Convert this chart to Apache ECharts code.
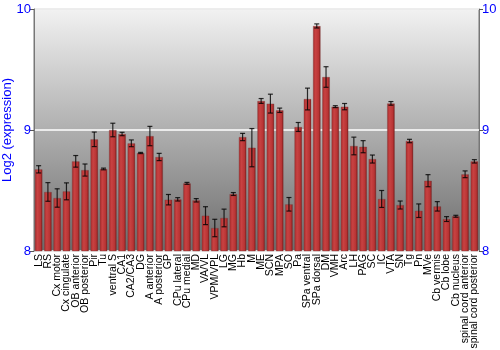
<!DOCTYPE html>
<html><head><meta charset="utf-8">
<script src="https://cdn.jsdelivr.net/npm/echarts@6/dist/echarts.min.js"></script>
<style>html,body{margin:0;padding:0;background:#fff}#c{width:500px;height:350px}</style>
</head><body><div id="c"></div>
<script>
const categories = ["LS","RS","Cx motor","Cx cingulate","OB anterior","OB posterior","Pir","Tu","ventral S","CA1","CA2/CA3","DG","A anterior","A posterior","GP","CPu lateral","CPu medial","MD","VA/VL","VPM/VPL","LG","MG","Hb","M","ME","SCN","MPA","SO","Pa","SPa ventral","SPa dorsal","DM","VMH","Arc","LH","PAG","SC","IC","VTA","SN","Tg","Pn","MVe","Cb vermis","Cb lobe","Cb nucleus","spinal cord anterior","spinal cord posterior"];
const values = [8.675,8.488,8.438,8.493,8.741,8.669,8.923,8.678,9.0,8.967,8.89,8.81,8.95,8.777,8.424,8.427,8.559,8.419,8.292,8.19,8.273,8.471,8.942,8.854,9.24,9.218,9.163,8.386,9.025,9.256,9.86,9.438,9.193,9.193,8.868,8.862,8.76,8.43,9.22,8.38,8.909,8.333,8.581,8.369,8.264,8.287,8.634,8.741];
const errors = [0.03,0.077,0.076,0.07,0.048,0.05,0.06,0.007,0.056,0.014,0.028,0.005,0.08,0.03,0.043,0.014,0.008,0.014,0.074,0.072,0.073,0.012,0.03,0.158,0.02,0.078,0.018,0.056,0.037,0.09,0.017,0.085,0.008,0.026,0.073,0.05,0.033,0.07,0.015,0.033,0.014,0.056,0.05,0.039,0.02,0.008,0.028,0.014];
const yTicks = [8, 9, 10];

const chart = echarts.init(document.getElementById('c'), null, {renderer:'canvas'});
const errData = values.map((v,i)=>[i, v - errors[i], v + errors[i]]);
const yCommon = {
  type:'value', min:yTicks[0], max:yTicks[yTicks.length-1], interval:1,
  axisLine:{show:true, lineStyle:{color:'#777', width:1}},
  axisTick:{show:true, length:4, lineStyle:{color:'#555'}},
  axisLabel:{color:'#0000ff', fontSize:13, fontFamily:'Liberation Sans', margin:3},
  splitLine:{show:false}
};
chart.setOption({
  animation:false,
  grid:{left:34, right:21, top:9, bottom:99, containLabel:false, outerBoundsMode:'none', show:true, borderWidth:1, borderColor:'#777',
    backgroundColor:{type:'linear',x:0,y:0,x2:0,y2:1,colorStops:[{offset:0,color:'#f2f2f2'},{offset:1,color:'#6c6c6c'}]}},
  xAxis:{type:'category', data:categories,
    axisLine:{show:false}, axisTick:{show:false},
    axisLabel:{interval:0, rotate:90, color:'#000', fontSize:10.5, fontFamily:'Liberation Sans', margin:3}},
  yAxis:[
    Object.assign({}, yCommon, {position:'left', name:'Log2 (expression)', nameLocation:'middle', nameGap:20, nameMoveOverlap:false,
      nameTextStyle:{color:'#0000ff', fontSize:13, fontFamily:'Liberation Sans'},
      splitLine:{show:true, lineStyle:{color:'#ffffff', width:1.5}}}),
    Object.assign({}, yCommon, {position:'right'})
  ],
  series:[
    {type:'bar', data:values, barWidth:'82%',
      itemStyle:{borderColor:'rgba(120,60,60,0.6)', borderWidth:0.6,
        color:{type:'linear',x:0,y:0,x2:1,y2:0,colorStops:[
          {offset:0,color:'#a82a2a'},{offset:0.35,color:'#c84242'},{offset:0.75,color:'#b83434'},{offset:1,color:'#7a1515'}]}}},
    {type:'custom', data:errData, z:5,
      renderItem:function(params, api){
        const x = api.value(0);
        const lo = api.coord([x, api.value(1)]);
        const hi = api.coord([x, api.value(2)]);
        const hw = 2.5;
        const st = {stroke:'rgba(0,0,0,0.8)', lineWidth:1.2};
        return {type:'group', children:[
          {type:'line', shape:{x1:lo[0], y1:lo[1], x2:hi[0], y2:hi[1]}, style:st},
          {type:'line', shape:{x1:lo[0]-hw, y1:lo[1], x2:lo[0]+hw, y2:lo[1]}, style:st},
          {type:'line', shape:{x1:hi[0]-hw, y1:hi[1], x2:hi[0]+hw, y2:hi[1]}, style:st}
        ]};
      }}
  ]
});
</script></body></html>
